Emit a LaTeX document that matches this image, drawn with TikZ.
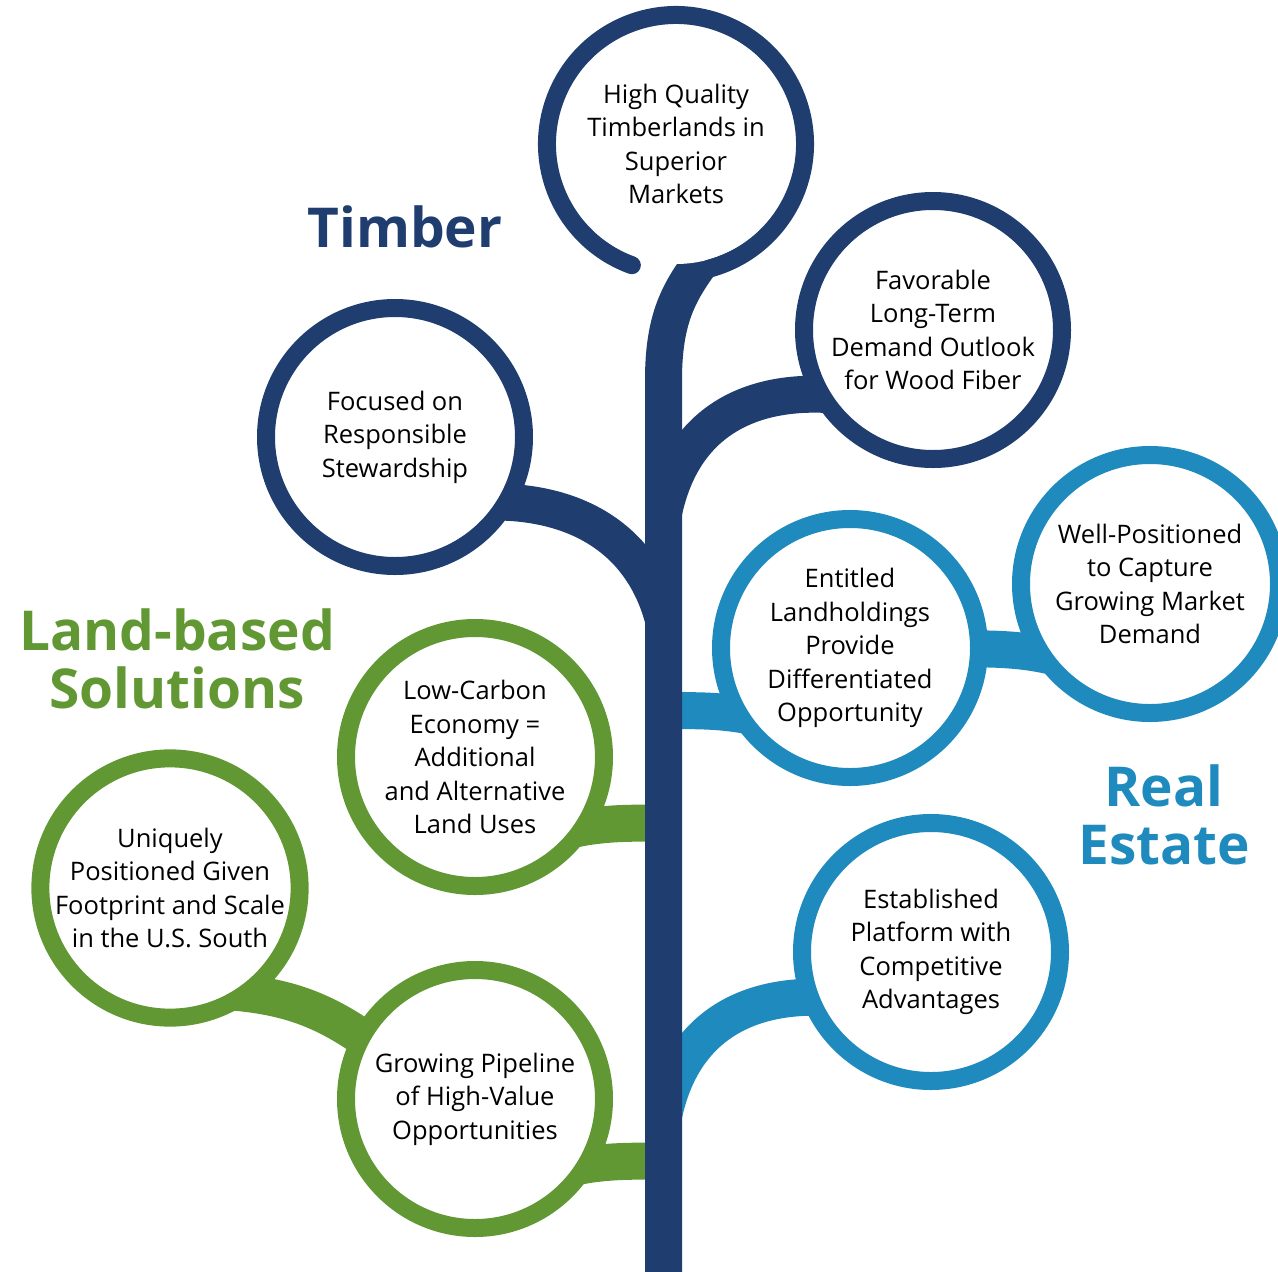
\documentclass[tikz,border=0pt]{standalone}
\usepackage{fontspec}
\setmainfont{Open Sans}
\usetikzlibrary{backgrounds,calc}
\definecolor{navy}{RGB}{31,61,110}
\definecolor{sky}{RGB}{30,138,189}
\definecolor{leaf}{RGB}{98,152,52}

\begin{document}
\begin{tikzpicture}[
  x=1pt, y=-1pt,
  ring/.style={circle, draw=#1, fill=white, line width=18pt, minimum size=258pt, inner sep=0pt, align=center, font=\fontsize{25.5}{33.5}\selectfont},
  limb/.style={draw=#1, line width=37pt},
  ttl/.style={text=#1, align=center, font=\fontsize{55}{58}\selectfont\bfseries}
]
\useasboundingbox (0,0) rectangle (1278,1272);

% ---------------- CIRCLES ----------------
\node[ring=navy, draw=none, minimum size=240pt] (topq) at (676,144) {High Quality\\Timberlands in\\Superior\\Markets};
\draw[navy, line width=18pt, line cap=round] (topq.center) ++(110:129) arc[start angle=110, end angle=435, radius=129];
\node[ring=navy] (stew)  at (395,437)  {Focused on\\Responsible\\Stewardship};
\node[ring=navy] (fav)   at (933,330)  {Favorable\\Long-Term\\Demand Outlook\\for Wood Fiber};
\node[ring=sky]  (ent)   at (850,648)  {Entitled\\Landholdings\\Provide\\Differentiated\\Opportunity};
\node[ring=sky]  (wpos)  at (1150,584) {Well-Positioned\\to Capture\\Growing Market\\Demand};
\node[ring=sky]  (estab) at (931,952)  {Established\\Platform with\\Competitive\\Advantages};
\node[ring=leaf] (lowc)  at (475,757)  {Low-Carbon\\Economy =\\Additional\\and Alternative\\Land Uses};
\node[ring=leaf] (uniq)  at (170,888)  {Uniquely\\Positioned Given\\Footprint and Scale\\in the U.S. South};
\node[ring=leaf] (pipe)  at (475,1099) {Growing Pipeline\\of High-Value\\Opportunities};

% ---------------- TITLES ----------------
\node[ttl=navy] (tTimber) at (405,227) {Timber};
\node[ttl=leaf] (tLand)   at (177,659) {Land-based\\Solutions};
\node[ttl=sky]  (tReal)   at (1164,815) {Real\\Estate};

% ---------------- TRUNK AND LIMBS ----------------
\coordinate (base) at (663.5,1272);
\coordinate (j1) at (663.5,620);
\coordinate (j2) at (663.5,513);
\coordinate (j3) at (663.5,711);
\coordinate (j4) at (663.5,823.5);
\coordinate (j5) at (663.5,1161.5);
\coordinate (j6) at (663.5,1116);
\begin{scope}[on background layer]
  \draw[limb=navy] ($(stew)+(55,68)$) .. controls (560,490) and (640,530) .. (j1);
  \draw[limb=navy] ($(fav)+(-73,68)$) .. controls (767,383) and (685,410) .. (j2);
  \draw[limb=sky]  (j3) .. controls (730,709) and (770,715) .. ($(ent)+(-40,92)$);
  \draw[limb=sky]  ($(ent)+(100,1)$) .. controls (1010,648) and (1050,650) .. ($(wpos)+(-55,88)$);
  \draw[limb=sky]  ($(estab)+(-71,49)$) .. controls (767,986) and (685,1013) .. (j6);
  \draw[limb=leaf] (j4) .. controls (597,821.5) and (557,827.5) .. ($(lowc)+(42,96)$);
  \draw[limb=leaf] (j5) .. controls (597,1159.5) and (557,1165.5) .. ($(pipe)+(42,92)$);
  \draw[limb=leaf] ($(uniq)+(30,102)$) .. controls (280,993) and (320,1005) .. ($(pipe)+(-95,-49)$);
  \draw[limb=navy] ($(topq)+(44,91)$) .. controls (690,280) and (663.5,300) .. (663.5,380) -- (base);
\end{scope}

\end{tikzpicture}
\end{document}
